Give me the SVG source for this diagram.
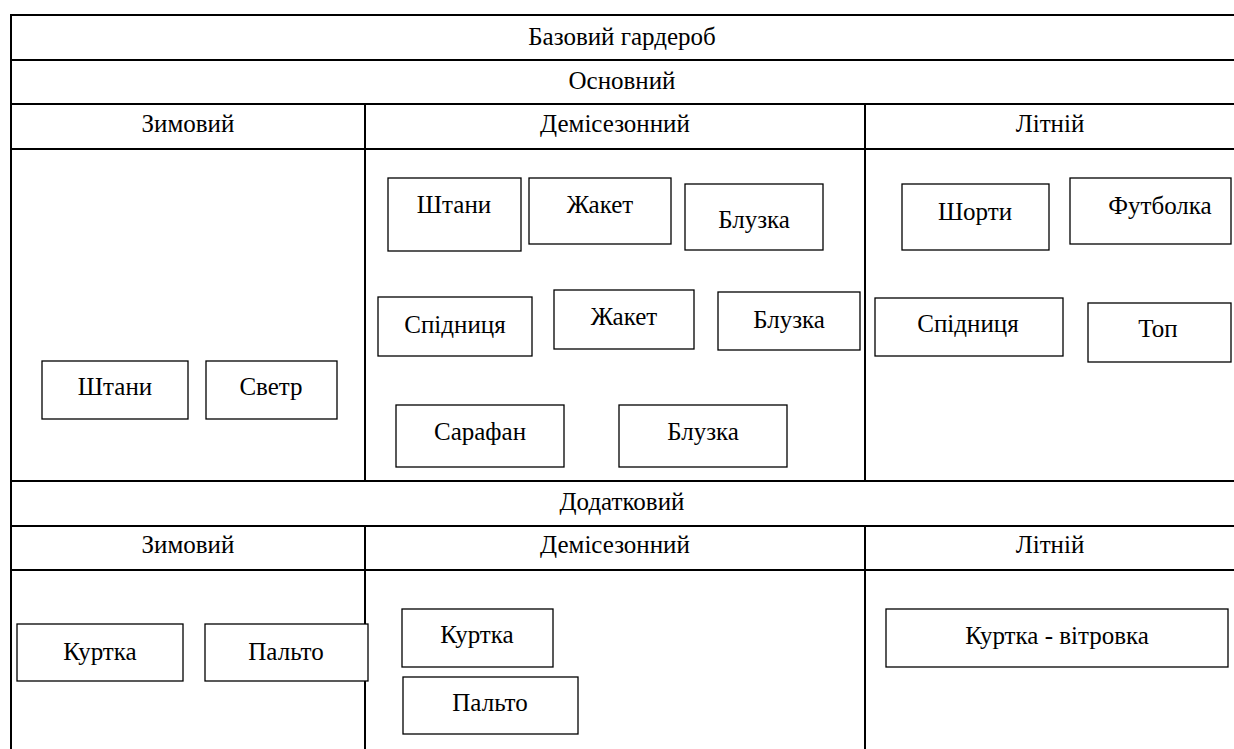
<svg xmlns="http://www.w3.org/2000/svg" width="1234" height="749" viewBox="0 0 1234 749">
<style>
.grid line{stroke:#000;stroke-width:2}
.node rect{fill:#fff;stroke:#000;stroke-width:1.3}
</style>
<rect x="0" y="0" width="1234" height="749" fill="#fff"/>
<g id="table" class="grid">
<line x1="11" y1="14" x2="11" y2="749"/>
<line x1="10" y1="15" x2="1234" y2="15"/>
<line x1="10" y1="60" x2="1234" y2="60"/>
<line x1="10" y1="104" x2="1234" y2="104"/>
<line x1="10" y1="149" x2="1234" y2="149"/>
<line x1="10" y1="481" x2="1234" y2="481"/>
<line x1="10" y1="526" x2="1234" y2="526"/>
<line x1="10" y1="570" x2="1234" y2="570"/>
<line x1="365" y1="104" x2="365" y2="481"/>
<line x1="865" y1="104" x2="865" y2="481"/>
<line x1="365" y1="526" x2="365" y2="749"/>
<line x1="865" y1="526" x2="865" y2="749"/>
</g>
<g id="headers">
<text x="622" y="45" font-family="Liberation Serif" font-size="25" text-anchor="middle">Базовий гардероб</text>
<text x="622" y="89" font-family="Liberation Serif" font-size="25" text-anchor="middle">Основний</text>
<text x="188" y="132" font-family="Liberation Serif" font-size="25" text-anchor="middle">Зимовий</text>
<text x="615" y="132" font-family="Liberation Serif" font-size="25" text-anchor="middle">Демісезонний</text>
<text x="1050" y="132" font-family="Liberation Serif" font-size="25" text-anchor="middle">Літній</text>
<text x="622" y="510" font-family="Liberation Serif" font-size="25" text-anchor="middle">Додатковий</text>
<text x="188" y="553" font-family="Liberation Serif" font-size="25" text-anchor="middle">Зимовий</text>
<text x="615" y="553" font-family="Liberation Serif" font-size="25" text-anchor="middle">Демісезонний</text>
<text x="1050" y="553" font-family="Liberation Serif" font-size="25" text-anchor="middle">Літній</text>
</g>
<g id="connectors"></g>
<g id="w-shtany" class="node"><rect x="42" y="361" width="146" height="58"/><text x="115" y="395" font-family="Liberation Serif" font-size="25" text-anchor="middle">Штани</text></g>
<g id="w-svetr" class="node"><rect x="206" y="361" width="131" height="58"/><text x="271" y="395" font-family="Liberation Serif" font-size="25" text-anchor="middle">Светр</text></g>
<g id="d-shtany" class="node"><rect x="388" y="178" width="133" height="73"/><text x="454" y="213" font-family="Liberation Serif" font-size="25" text-anchor="middle">Штани</text></g>
<g id="d-zhaket1" class="node"><rect x="529" y="178" width="142" height="66"/><text x="600" y="213" font-family="Liberation Serif" font-size="25" text-anchor="middle">Жакет</text></g>
<g id="d-bluzka1" class="node"><rect x="685" y="184" width="138" height="66"/><text x="754" y="228" font-family="Liberation Serif" font-size="25" text-anchor="middle">Блузка</text></g>
<g id="d-spidnytsia" class="node"><rect x="378" y="297" width="154" height="59"/><text x="455" y="333" font-family="Liberation Serif" font-size="25" text-anchor="middle">Спідниця</text></g>
<g id="d-zhaket2" class="node"><rect x="554" y="290" width="140" height="59"/><text x="624" y="325" font-family="Liberation Serif" font-size="25" text-anchor="middle">Жакет</text></g>
<g id="d-bluzka2" class="node"><rect x="718" y="292" width="142" height="58"/><text x="789" y="328" font-family="Liberation Serif" font-size="25" text-anchor="middle">Блузка</text></g>
<g id="d-sarafan" class="node"><rect x="396" y="405" width="168" height="62"/><text x="480" y="440" font-family="Liberation Serif" font-size="25" text-anchor="middle">Сарафан</text></g>
<g id="d-bluzka3" class="node"><rect x="619" y="405" width="168" height="62"/><text x="703" y="440" font-family="Liberation Serif" font-size="25" text-anchor="middle">Блузка</text></g>
<g id="s-shorty" class="node"><rect x="902" y="184" width="147" height="66"/><text x="975" y="220" font-family="Liberation Serif" font-size="25" text-anchor="middle">Шорти</text></g>
<g id="s-futbolka" class="node"><rect x="1070" y="178" width="161" height="66"/><text x="1160" y="214" font-family="Liberation Serif" font-size="25" text-anchor="middle">Футболка</text></g>
<g id="s-spidnytsia" class="node"><rect x="875" y="298" width="188" height="58"/><text x="968" y="332" font-family="Liberation Serif" font-size="25" text-anchor="middle">Спідниця</text></g>
<g id="s-top" class="node"><rect x="1088" y="303" width="143" height="59"/><text x="1158" y="337" font-family="Liberation Serif" font-size="25" text-anchor="middle">Топ</text></g>
<g id="a-w-kurtka" class="node"><rect x="17" y="624" width="166" height="57"/><text x="100" y="660" font-family="Liberation Serif" font-size="25" text-anchor="middle">Куртка</text></g>
<g id="a-w-palto" class="node"><rect x="205" y="624" width="163" height="57"/><text x="286" y="660" font-family="Liberation Serif" font-size="25" text-anchor="middle">Пальто</text></g>
<g id="a-d-kurtka" class="node"><rect x="402" y="609" width="151" height="58"/><text x="477" y="643" font-family="Liberation Serif" font-size="25" text-anchor="middle">Куртка</text></g>
<g id="a-d-palto" class="node"><rect x="403" y="677" width="175" height="57"/><text x="490" y="711" font-family="Liberation Serif" font-size="25" text-anchor="middle">Пальто</text></g>
<g id="a-s-kurtka" class="node"><rect x="886" y="609" width="342" height="58"/><text x="1057" y="644" font-family="Liberation Serif" font-size="25" text-anchor="middle">Куртка - вітровка</text></g>
</svg>
